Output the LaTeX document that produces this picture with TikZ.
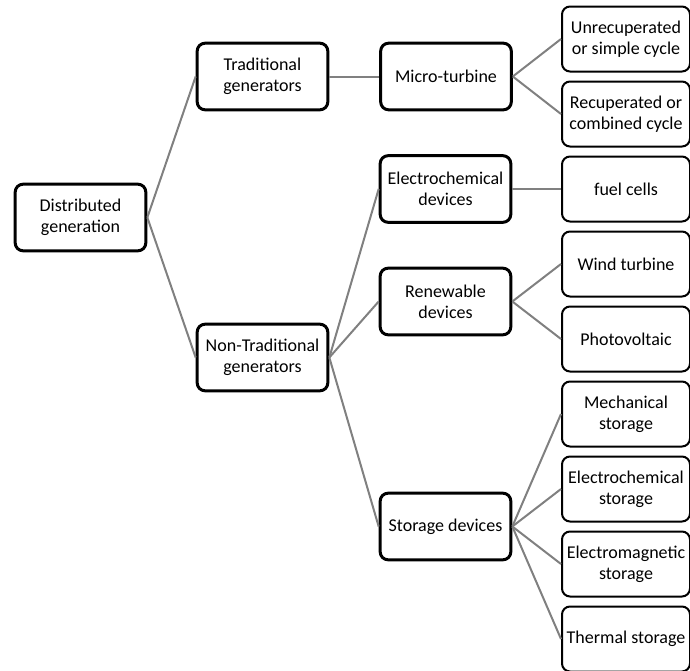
\documentclass[tikz,border=0pt]{standalone}
\usepackage{fontspec}
\setmainfont{Carlito}
\usetikzlibrary{positioning}

\begin{document}
\begin{tikzpicture}[x=0.75pt,y=-0.75pt,node distance=6pt,
    mainbox/.style={draw, line width=2.25pt, rounded corners=6pt, text width=98pt, minimum height=50pt, inner sep=0pt, align=flush center, font=\fontsize{13.5}{15.5}\selectfont},
    leafbox/.style={draw, line width=1.5pt, rounded corners=6pt, text width=96pt, minimum height=48.75pt, inner sep=0pt, align=flush center, font=\fontsize{13.5}{15.5}\selectfont},
    branch/.style={draw=gray, line width=1.5pt}]
    \useasboundingbox (0,0) rectangle (690,671);

    % Root and first level
    \node[mainbox] (root) at (80.5,217.5) {Distributed\\generation};
    \node[mainbox] (trad) at (262.5,76.5) {Traditional\\generators};
    \node[mainbox] (nontrad) at (262.5,357.5) {Non-Traditional\\generators};

    % Second level
    \node[mainbox] (micro) at (446,76.5) {Micro-turbine};
    \node[mainbox] (elecdev) at (445.5,189) {Electrochemical\\devices};
    \node[mainbox] (renew) at (445.5,301.5) {Renewable\\devices};
    \node[mainbox] (storage) at (445.5,526.5) {Storage devices};

    % Leaves
    \node[leafbox] (unrec) at (626,39) {Unrecuperated\\or simple cycle};
    \node[leafbox, below=of unrec] (recup) {Recuperated or\\combined cycle};
    \node[leafbox, below=of recup] (fuel) {fuel cells};
    \node[leafbox, below=of fuel] (wind) {Wind turbine};
    \node[leafbox, below=of wind] (pv) {Photovoltaic};
    \node[leafbox, below=of pv] (mech) {Mechanical\\storage};
    \node[leafbox, below=of mech] (echem) {Electrochemical\\storage};
    \node[leafbox, below=of echem] (emag) {Electromagnetic\\storage};
    \node[leafbox, below=of emag] (therm) {Thermal storage};

    % Branches
    \draw[branch] (root.east) -- (trad.west);
    \draw[branch] (root.east) -- (nontrad.west);
    \draw[branch] (trad.east) -- (micro.west);
    \draw[branch] (nontrad.east) -- (elecdev.west);
    \draw[branch] (nontrad.east) -- (renew.west);
    \draw[branch] (nontrad.east) -- (storage.west);
    \draw[branch] (micro.east) -- (unrec.west);
    \draw[branch] (micro.east) -- (recup.west);
    \draw[branch] (elecdev.east) -- (fuel.west);
    \draw[branch] (renew.east) -- (wind.west);
    \draw[branch] (renew.east) -- (pv.west);
    \draw[branch] (storage.east) -- (mech.west);
    \draw[branch] (storage.east) -- (echem.west);
    \draw[branch] (storage.east) -- (emag.west);
    \draw[branch] (storage.east) -- (therm.west);
\end{tikzpicture}
\end{document}
